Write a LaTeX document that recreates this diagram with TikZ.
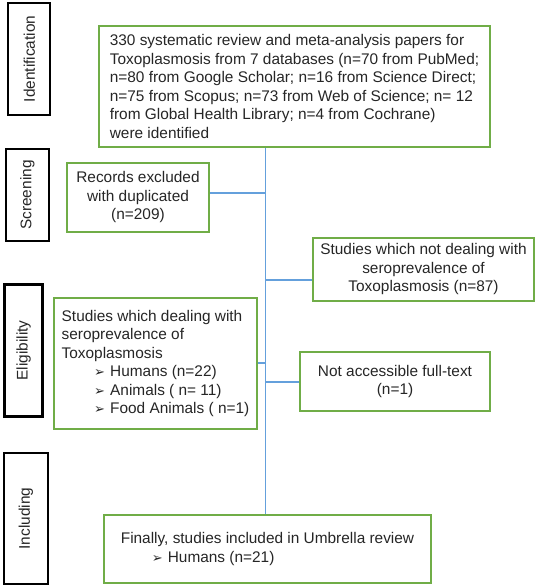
\documentclass[tikz,border=0pt]{standalone}
\usepackage{fontspec}
\setmainfont{Liberation Sans}
\newfontfamily\dejavu{DejaVu Sans}
\definecolor{boxgreen}{RGB}{112,173,71}
\definecolor{linkblue}{RGB}{100,160,220}
\newcommand{\bul}{{\dejavu\fontsize{13}{13}\selectfont ➢}}
\newcommand{\bitem}[2]{\hspace*{#1}\makebox[16pt][l]{\bul}#2}
\begin{document}
\begin{tikzpicture}[x=1pt,y=-1pt,
  every node/.style={font=\fontsize{15.4}{18.5}\selectfont, text=black!85},
  gbox/.style={draw=boxgreen, line width=2.2pt, inner sep=0pt, fill=white},
  sidebox/.style={draw=black, line width=2pt, rotate=90, inner sep=0pt},
  link/.style={draw=linkblue, line width=1.3pt}]
\useasboundingbox (0,0) rectangle (541,588);

% stage labels
\node[sidebox, minimum width=112pt, minimum height=42pt] (sid) at (29.3,59) {Identification};
\node[sidebox, minimum width=92pt, minimum height=43pt] (sscr) at (27.5,195) {Screening};
\node[sidebox, line width=3pt, minimum width=132pt, minimum height=38pt] (selig) at (23.7,350.5) {Eligibility};
\node[sidebox, minimum width=131pt, minimum height=44pt] (sincl) at (26,518.5) {Including};

% boxes
\node[gbox, align=left, minimum width=391pt, minimum height=121pt] (main) at (294.5,86.5)
 {330 systematic review and meta-analysis papers for\\
  Toxoplasmosis from 7 databases (n=70 from PubMed;\\
  n=80 from Google Scholar; n=16 from Science Direct;\\
  n=75 from Scopus; n=73 from Web of Science; n= 12\\
  from Global Health Library; n=4 from Cochrane)\\
  were identified};
\node[gbox, align=center, minimum width=142pt, minimum height=69pt] (rec) at (138,197.5)
 {Records excluded\\with duplicated\\(n=209)};
\node[gbox, align=center, minimum width=221pt, minimum height=63pt] (notdeal) at (423.5,269.5)
 {Studies which not dealing with\\seroprevalence of\\Toxoplasmosis (n=87)};
\node[gbox, align=left, minimum width=203pt, minimum height=131pt] (deal) at (155.5,363.5)
 {Studies which dealing with\\seroprevalence of\\Toxoplasmosis\\
  \bitem{32.5pt}{Humans (n=22)}\\
  \bitem{32.5pt}{Animals ( n= 11)}\\
  \bitem{32.5pt}{Food Animals ( n=1)}};
\node[gbox, align=center, minimum width=190pt, minimum height=59pt] (notacc) at (395,381.5)
 {Not accessible full-text\\(n=1)};
\node[gbox, align=left, minimum width=327pt, minimum height=68pt] (final) at (267.5,549)
 {Finally, studies included in Umbrella review\\
  \bitem{31pt}{Humans (n=21)}};

% connectors
\coordinate (spine) at (265.5,0);
\coordinate (lrec) at (0,193);
\coordinate (lnot) at (0,280);
\coordinate (ldeal) at (0,363);
\coordinate (lacc) at (0,382);
\draw[link] (main.south -| spine) -- (final.north -| spine);
\draw[link] (rec.east |- lrec) -- (spine |- lrec);
\draw[link] (spine |- lnot) -- (notdeal.west |- lnot);
\draw[link] (deal.east |- ldeal) -- (spine |- ldeal);
\draw[link] (spine |- lacc) -- (notacc.west |- lacc);
\end{tikzpicture}
\end{document}
